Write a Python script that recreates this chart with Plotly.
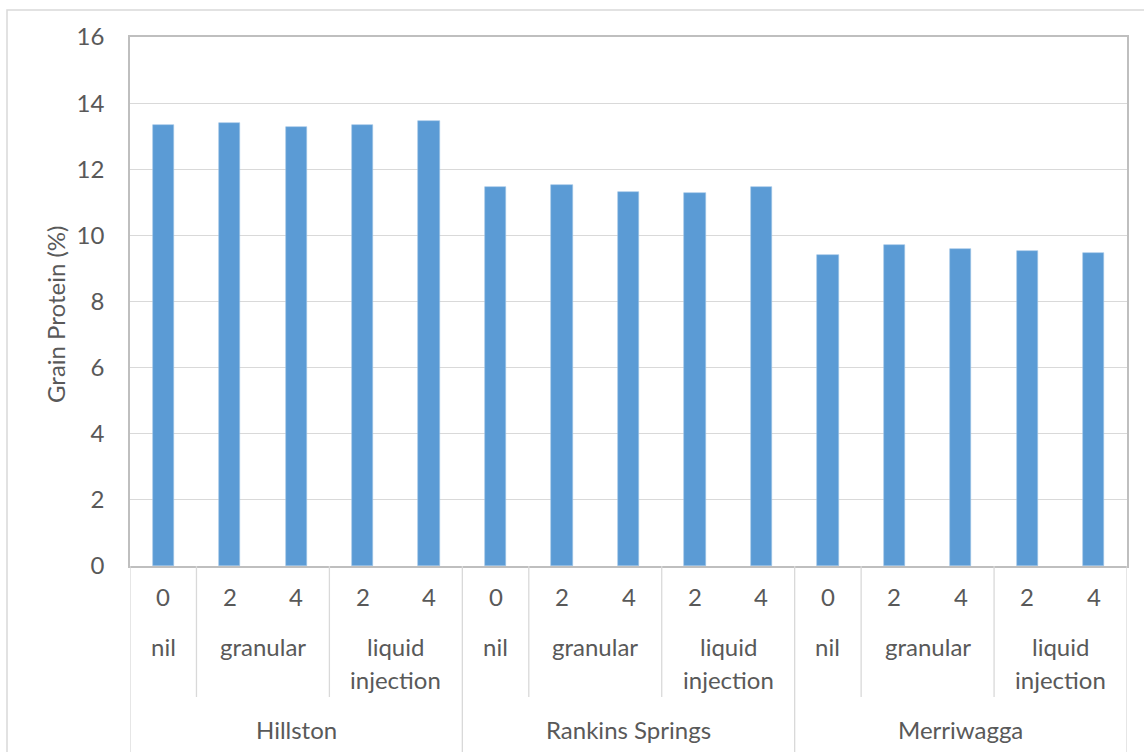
import plotly.graph_objects as go

# Grain protein by site, N application method and rate
sites = ["Hillston", "Rankins Springs", "Merriwagga"]
methods = ["nil", "granular", "granular", "liquid injection", "liquid injection"]
rates = ["0", "2", "4", "2", "4"]
protein_hillston = [13.35, 13.40, 13.27, 13.35, 13.47]
protein_rankins = [11.45, 11.51, 11.32, 11.29, 11.45]
protein_merriwagga = [9.41, 9.70, 9.60, 9.54, 9.47]

protein = protein_hillston + protein_rankins + protein_merriwagga
n_per_site = len(rates)
n_bars = len(protein)
xs = list(range(n_bars))

W, H = 1144, 752
L, R, T, B = 130, 17, 37, 186
PW, PH = W - L - R, H - T - B

TEXT = "#595959"
FONT = "Lato"
FS = 24
GRID = "#D9D9D9"
AXIS = "#BFBFBF"


def py(pix):
    """pixel row -> paper y"""
    return (H - B - pix) / PH


def pxp(pix):
    """pixel column -> paper x"""
    return (pix - L) / PW


def label(x, y, text, xref="x", angle=0):
    return dict(x=x, y=y, xref=xref, yref="paper", text=text, showarrow=False,
                xanchor="center", yanchor="middle", textangle=angle,
                font=dict(family=FONT, size=FS, color=TEXT))


fig = go.Figure(
    go.Bar(
        x=xs,
        y=protein,
        width=0.32,
        marker=dict(color="#5B9BD5", line=dict(color="#9DC3E6", width=0.6)),
        hoverinfo="y",
    )
)

annotations = []
shapes = []

# category label rows under the x axis
for i, site in enumerate(sites):
    base = i * n_per_site
    for j in range(n_per_site):
        annotations.append(label(base + j, py(596), rates[j]))
    # group consecutive identical methods
    j = 0
    while j < n_per_site:
        k = j
        while k + 1 < n_per_site and methods[k + 1] == methods[j]:
            k += 1
        cx = base + (j + k) / 2
        for w_i, word in enumerate(methods[j].split(" ")):
            annotations.append(label(cx, py(646 + 33 * w_i), word))
        if j > 0:
            shapes.append(dict(type="line", xref="x", yref="paper",
                               x0=base + j - 0.5, x1=base + j - 0.5,
                               y0=0, y1=py(697), line=dict(color=GRID, width=1.3)))
        j = k + 1
    annotations.append(label(base + (n_per_site - 1) / 2, py(729), site))
    # site boundaries run to the bottom edge
    shapes.append(dict(type="line", xref="x", yref="paper",
                       x0=base - 0.5, x1=base - 0.5, y0=0, y1=py(760),
                       line=dict(color=GRID, width=1.3)))
shapes.append(dict(type="line", xref="x", yref="paper",
                   x0=n_bars - 0.5, x1=n_bars - 0.5, y0=0, y1=py(760),
                   line=dict(color=GRID, width=1.3)))

# y axis title
annotations.append(label(pxp(55), py(314), "Grain Protein (%)", xref="paper", angle=-90))

# outer chart frame
shapes.append(dict(type="rect", xref="paper", yref="paper",
                   x0=pxp(7), x1=pxp(1160), y0=py(770), y1=py(10),
                   line=dict(color=GRID, width=1.5), layer="below"))

fig.update_layout(
    width=W, height=H,
    margin=dict(l=L, r=R, t=T, b=B, pad=0),
    paper_bgcolor="white", plot_bgcolor="white",
    showlegend=False,
    bargap=0,
    annotations=annotations,
    shapes=shapes,
    xaxis=dict(range=[-0.5, n_bars - 0.5], showticklabels=False, showgrid=False,
               zeroline=False, showline=True, linecolor=AXIS, linewidth=1.5,
               mirror=True, ticks=""),
    yaxis=dict(range=[0, 16], dtick=2, showgrid=True, gridcolor=GRID, gridwidth=1.3,
               zeroline=False, showline=True, linecolor=AXIS, linewidth=1.5,
               mirror=True, ticks="", ticklabelstandoff=19,
               tickfont=dict(family=FONT, size=FS, color=TEXT)),
)

fig.write_html("out.html")
